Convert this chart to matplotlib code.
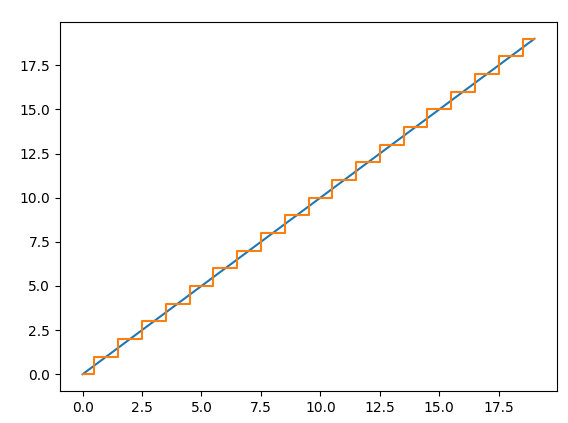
import matplotlib
matplotlib.use('Agg')
import matplotlib.pyplot as plt

# data: integers 0..19 on both axes
x = [0, 1, 2, 3, 4, 5, 6, 7, 8, 9, 10, 11, 12, 13, 14, 15, 16, 17, 18, 19]
y = [0, 1, 2, 3, 4, 5, 6, 7, 8, 9, 10, 11, 12, 13, 14, 15, 16, 17, 18, 19]

fig = plt.figure(figsize=(5.68, 4.23), dpi=100)
ax = fig.add_axes([60 / 568, 1 - 391 / 423, 497 / 568, 369 / 423])

ax.plot(x, y)
ax.step(x, y, where='mid')

plt.savefig('out.png', dpi=100)
